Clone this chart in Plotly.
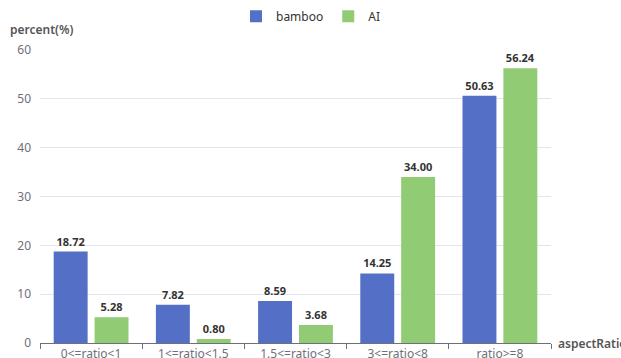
import plotly.graph_objects as go

categories = ["0<=ratio<1", "1<=ratio<1.5", "1.5<=ratio<3", "3<=ratio<8", "ratio>=8"]
bamboo = [18.72, 7.82, 8.59, 14.25, 50.63]
ai = [5.28, 0.80, 3.68, 34.00, 56.24]
y_ticks = [0, 10, 20, 30, 40, 50, 60]

FONT = "Noto Sans, Open Sans, sans-serif"
fig = go.Figure()
fig.add_trace(go.Bar(name="bamboo", x=categories, y=bamboo, marker_color="#5470C6",
                     text=[f"{v:.2f}" for v in bamboo], textposition="outside",
                     cliponaxis=False,
                     textfont=dict(family=FONT, size=11, color="#333333", weight="bold")))
fig.add_trace(go.Bar(name="AI", x=categories, y=ai, marker_color="#91CC75",
                     text=[f"{v:.2f}" for v in ai], textposition="outside",
                     cliponaxis=False,
                     textfont=dict(family=FONT, size=11, color="#333333", weight="bold")))

fig.update_layout(
    template="none",
    width=621, height=358,
    margin=dict(l=40, r=70, t=50, b=15, autoexpand=False),
    paper_bgcolor="white", plot_bgcolor="white",
    barmode="group", bargap=0.2, bargroupgap=0.17,
    font=dict(family=FONT, size=12, color="#6E7079"),
    showlegend=True,
    legend=dict(orientation="h", xref="container", yref="container", x=0.5, y=0.995,
                xanchor="center", yanchor="top", font=dict(size=12, color="#333333"),
                tracegroupgap=0),
    xaxis=dict(automargin=False, showline=True, linecolor="#6E7079", ticks="outside",
               tickson="boundaries", ticklen=5, tickcolor="#6E7079", showgrid=False,
               tickfont=dict(size=12, color="#6E7079")),
    yaxis=dict(automargin=False, range=[0, 60], tickvals=y_ticks, showgrid=True,
               gridcolor="#E0E6F1", zeroline=False, showline=False, ticks="",
               ticklabelstandoff=8, tickfont=dict(size=12, color="#6E7079")),
    annotations=[
        dict(text="percent(%)", xref="paper", yref="paper", x=0, y=1, xshift=-32, yshift=10,
             xanchor="left", yanchor="bottom", showarrow=False,
             font=dict(size=12, color="#555555", weight=600)),
        dict(text="aspectRatio", xref="paper", yref="paper", x=1, y=0, xshift=5,
             xanchor="left", yanchor="middle", showarrow=False,
             font=dict(size=12, color="#555555", weight=600)),
    ],
)
fig.write_html("out.html")
